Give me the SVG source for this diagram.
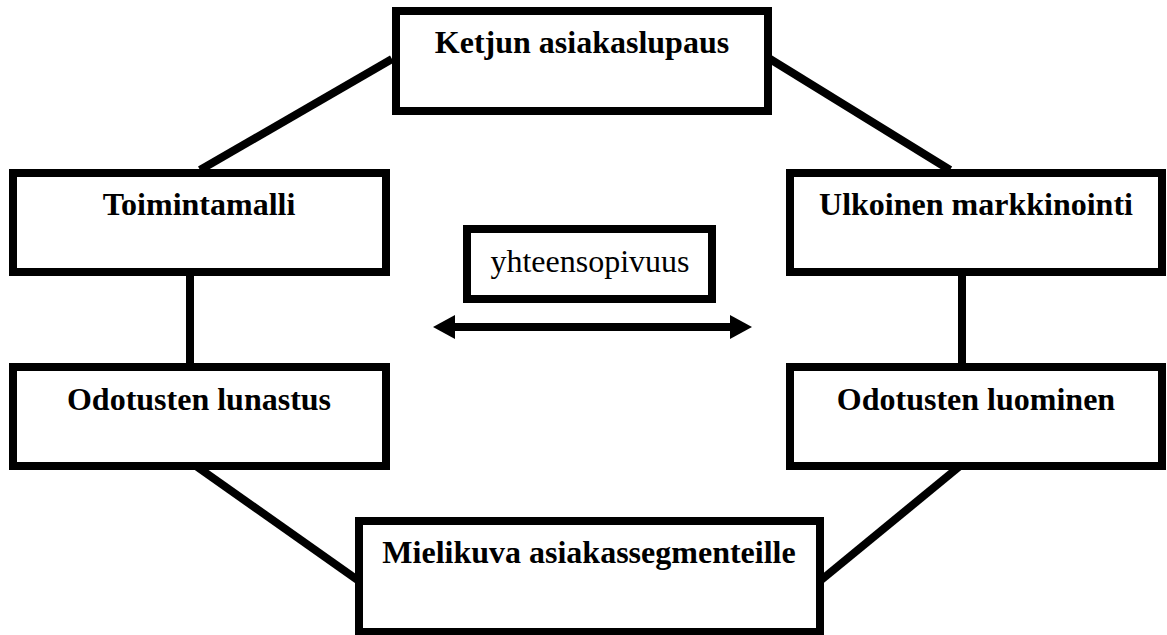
<svg xmlns="http://www.w3.org/2000/svg" width="1167" height="635" viewBox="0 0 1167 635">
  <defs>
    <style>
      .box { fill: #ffffff; stroke: #000000; stroke-width: 8; }
      .link { fill: none; stroke: #000000; stroke-width: 8; }
      .label { font-family: "Liberation Serif", "Times New Roman", serif; font-size: 32px; font-weight: bold; fill: #000000; text-anchor: middle; }
      .plain { font-family: "Liberation Serif", "Times New Roman", serif; font-size: 32px; fill: #000000; text-anchor: middle; }
    </style>
  </defs>
  <rect width="1167" height="635" fill="#ffffff"/>

  <!-- connectors forming the ring -->
  <g id="connectors">
    <line class="link" x1="200" y1="170" x2="392" y2="59"/>
    <line class="link" x1="950" y1="170" x2="770" y2="59"/>
    <line class="link" x1="190" y1="272" x2="190" y2="367"/>
    <line class="link" x1="962" y1="272" x2="962" y2="367"/>
    <line class="link" x1="196" y1="466" x2="359" y2="581"/>
    <line class="link" x1="960" y1="466" x2="820" y2="581"/>
  </g>

  <g id="ketjun-asiakaslupaus">
    <rect class="box" x="396" y="11" width="372" height="100"/>
    <text class="label" x="582" y="53">Ketjun asiakaslupaus</text>
  </g>

  <g id="toimintamalli">
    <rect class="box" x="13" y="173" width="373" height="99"/>
    <text class="label" x="199" y="215">Toimintamalli</text>
  </g>

  <g id="ulkoinen-markkinointi">
    <rect class="box" x="790" y="173" width="372" height="99"/>
    <text class="label" x="976" y="215">Ulkoinen markkinointi</text>
  </g>

  <g id="odotusten-lunastus">
    <rect class="box" x="13" y="367" width="373" height="99"/>
    <text class="label" x="199" y="410">Odotusten lunastus</text>
  </g>

  <g id="odotusten-luominen">
    <rect class="box" x="790" y="367" width="372" height="99"/>
    <text class="label" x="976" y="410">Odotusten luominen</text>
  </g>

  <g id="mielikuva-asiakassegmenteille">
    <rect class="box" x="359" y="521" width="461" height="111"/>
    <text class="label" x="589" y="563">Mielikuva asiakassegmenteille</text>
  </g>

  <g id="yhteensopivuus">
    <rect class="box" x="467" y="229" width="245" height="70"/>
    <text class="plain" x="590" y="272">yhteensopivuus</text>
  </g>

  <!-- double-headed arrow under the centre label -->
  <g id="arrow">
    <line x1="450" y1="327" x2="735" y2="327" stroke="#000000" stroke-width="8"/>
    <polygon points="433,327 455,315 455,339" fill="#000000"/>
    <polygon points="752,327 730,315 730,339" fill="#000000"/>
  </g>
</svg>
